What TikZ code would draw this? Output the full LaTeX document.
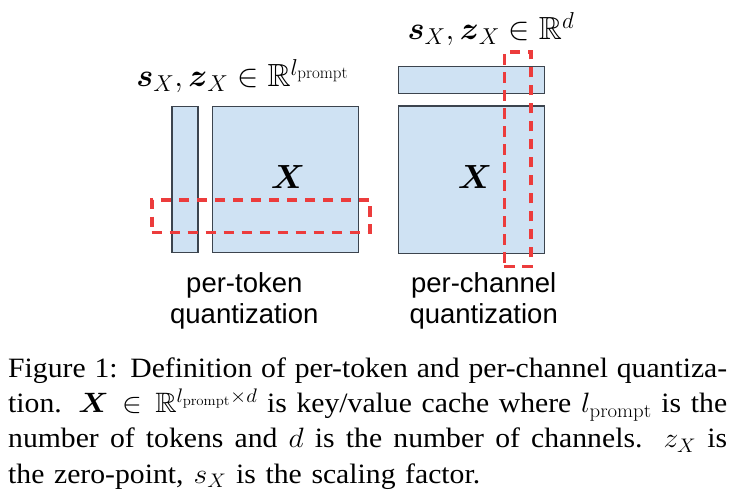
\RequirePackage{fix-cm}
\documentclass[tikz,border=0pt]{standalone}
\usepackage{amsmath,amssymb}
\DeclareFontFamily{U}{msb}{}
\DeclareFontShape{U}{msb}{m}{n}{<-6> msbm5 <6-8> msbm7 <8-> msbm10}{}
\usepackage[no-math]{fontspec}
\setmainfont{Liberation Serif}
\newfontfamily\labelsans{Liberation Sans}
\DeclareMathSizes{32}{32}{23}{17}
\definecolor{cellfill}{RGB}{207,226,243}
\definecolor{celldraw}{RGB}{60,68,78}
\definecolor{qred}{RGB}{236,60,60}
\newcommand{\capl}[2]{\scalebox{1.06}[1]{\makebox[#1][s]{#2}}}
\begin{document}
\begin{tikzpicture}[x=1pt,y=-1pt,
  cell/.style={draw=celldraw,fill=cellfill,line width=1.3pt,inner sep=0pt,outer sep=0pt},
  reddash/.style={draw=qred,line width=3.6pt,dash pattern=on 10.5pt off 7.5pt,inner sep=0pt,outer sep=0pt},
  mlabel/.style={font=\fontsize{32}{36}\selectfont,inner sep=0pt},
  xlabel/.style={font=\fontsize{33.5}{38}\selectfont,inner sep=0pt},
  slabel/.style={font=\labelsans\fontsize{27.5}{31}\selectfont,anchor=base,inner sep=0pt},
  capline/.style={font=\fontsize{28}{35}\selectfont,anchor=base west,inner sep=0pt}]
\useasboundingbox (0,0) rectangle (732,497);
% left panel
\node[cell,minimum width=26pt,minimum height=146pt] (scol) at (185,179.7) {};
\node[cell,minimum width=146pt,minimum height=146pt] (xl) at (285.3,179.7) {};
\node[xlabel] (xlt) at (288,177) {$\boldsymbol{X}$};
\node[reddash,minimum width=218.3pt,minimum height=32.7pt] (rl) at (260.85,216.35) {};
\node[mlabel] (ll) at (242.5,76) {$\boldsymbol{s}_{X},\boldsymbol{z}_{X}\in\mathbb{R}^{l_{\mathrm{prompt}}}$};
% right panel
\node[cell,minimum width=146pt,minimum height=26.6pt] (srow) at (471.3,80) {};
\node[cell,minimum width=146pt,minimum height=147.3pt] (xr) at (471.3,179.7) {};
\node[xlabel] (xrt) at (475,177) {$\boldsymbol{X}$};
\node[reddash,minimum width=26.7pt,minimum height=214.4pt] (rr) at (517.65,159.5) {};
\node[mlabel] (rl2) at (491,29) {$\boldsymbol{s}_{X},\boldsymbol{z}_{X}\in\mathbb{R}^{d}$};
% bottom labels
\node[slabel] (tl1) at (244.3,293) {per-token};
\node[slabel] (tl2) at (244.3,324) {quantization};
\node[slabel] (cl1) at (483.7,293) {per-channel};
\node[slabel] (cl2) at (483.7,324) {quantization};
% caption
\node[capline] (c1) at (8,378) {\capl{678.3pt}{Figure 1: Definition of per-token and per-channel quantiza-}};
\node[capline] (c2) at (8,413) {\capl{678.3pt}{tion. $\boldsymbol{X}\in\mathbb{R}^{l_{\mathrm{prompt}}\times d}$ is key/value cache where $l_{\mathrm{prompt}}$ is the}};
\node[capline] (c3) at (8,448) {\capl{678.3pt}{number of tokens and $d$ is the number of channels. $z_X$ is}};
\node[capline] (c4) at (8,483) {\capl{445.3pt}{the zero-point, $s_X$ is the scaling factor.}};
\end{tikzpicture}
\end{document}
